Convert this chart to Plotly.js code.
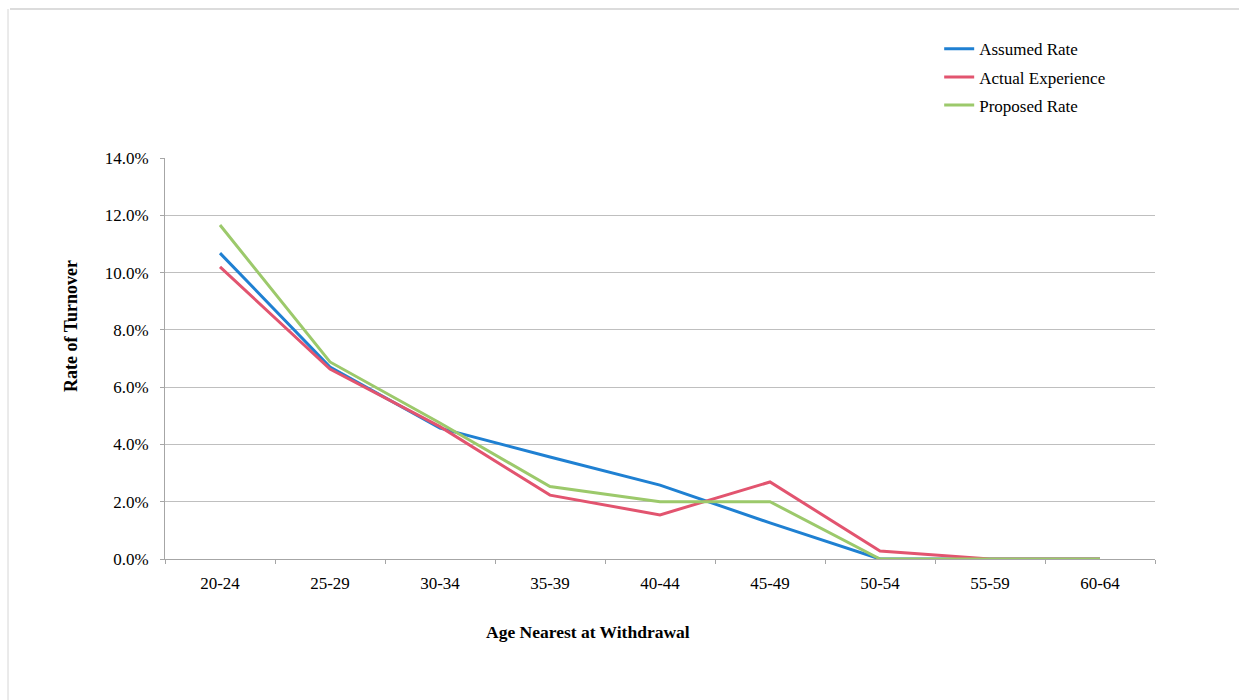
<!DOCTYPE html>
<html>
<head>
<meta charset="utf-8">
<script src="https://cdn.plot.ly/plotly-3.0.1.min.js"></script>
<style>
  html, body { margin: 0; padding: 0; background: #fff; }
  #chart { width: 1239px; height: 700px; }
</style>
</head>
<body>
<div id="chart"></div>
<script>
const categories = ["20-24", "25-29", "30-34", "35-39", "40-44", "45-49", "50-54", "55-59", "60-64"];
const assumedRate = [10.68, 6.70, 4.57, 3.56, 2.58, 1.26, 0.0, 0.0, 0.0];
const actualExperience = [10.20, 6.63, 4.62, 2.23, 1.54, 2.69, 0.28, 0.0, 0.0];
const proposedRate = [11.66, 6.88, 4.75, 2.53, 2.00, 2.00, 0.0, 0.0, 0.0];
const yTickVals = [0, 2, 4, 6, 8, 10, 12, 14];
const yTickText = ["0.0%", "2.0%", "4.0%", "6.0%", "8.0%", "10.0%", "12.0%", "14.0%"];
const xTitle = "Age Nearest at Withdrawal";
const yTitle = "Rate of Turnover";

const serif = "Liberation Serif";

const traces = [
  { name: "Assumed Rate", y: assumedRate, color: "#1f80d2" },
  { name: "Actual Experience", y: actualExperience, color: "#e2546f" },
  { name: "Proposed Rate", y: proposedRate, color: "#9cc96b" }
].map((s, i) => ({
  type: "scatter",
  mode: "lines",
  x: categories,
  y: s.y,
  name: s.name,
  legendgroup: "g" + i,
  line: { color: s.color, width: 3 },
  hoverinfo: "x+y+name"
}));

const layout = {
  width: 1239,
  height: 700,
  margin: { l: 165, r: 84, t: 158, b: 141 },
  paper_bgcolor: "#ffffff",
  plot_bgcolor: "#ffffff",
  font: { family: serif, size: 17, color: "#000" },
  showlegend: true,
  legend: {
    x: 0.782, xanchor: "left",
    y: 1.316, yanchor: "top",
    font: { family: serif, size: 17, color: "#000" },
    traceorder: "grouped",
    tracegroupgap: 3,
    bgcolor: "rgba(0,0,0,0)",
    itemwidth: 30
  },
  xaxis: {
    type: "category",
    range: [-0.5, 8.5],
    showgrid: false,
    showline: true,
    linecolor: "#a6a6a6",
    linewidth: 1,
    ticks: "outside",
    tickson: "boundaries",
    ticklen: 4,
    tickcolor: "#a6a6a6",
    ticklabelstandoff: 9,
    tickfont: { family: serif, size: 17, color: "#000" },
    zeroline: false
  },
  yaxis: {
    range: [0, 14],
    tickvals: yTickVals,
    ticktext: yTickText,
    showgrid: true,
    gridcolor: "#bfbfbf",
    gridwidth: 1,
    showline: true,
    linecolor: "#a6a6a6",
    linewidth: 1,
    ticks: "outside",
    ticklen: 4,
    tickcolor: "#a6a6a6",
    ticklabelstandoff: 8,
    tickfont: { family: serif, size: 17, color: "#000" },
    zeroline: false
  },
  annotations: [
    { text: "<b>" + xTitle + "</b>", xref: "paper", yref: "paper",
      x: (588 - 165) / 990, y: (559 - 632) / 401, xanchor: "center", yanchor: "middle",
      showarrow: false, font: { family: serif, size: 17.5, color: "#000" } },
    { text: "<b>" + yTitle + "</b>", xref: "paper", yref: "paper", textangle: -90,
      x: (71 - 165) / 990, y: (559 - 326) / 401, xanchor: "center", yanchor: "middle",
      showarrow: false, font: { family: serif, size: 18, color: "#000" } }
  ],
  shapes: [
    { type: "line", xref: "paper", yref: "paper",
      x0: (10 - 165) / 990, x1: (1239 - 165) / 990,
      y0: (700 - 141 - 9) / 401, y1: (700 - 141 - 9) / 401,
      line: { color: "#d0d0d0", width: 1.5 } },
    { type: "line", xref: "paper", yref: "paper",
      x0: (8 - 165) / 990, x1: (8 - 165) / 990,
      y0: (700 - 141 - 9) / 401, y1: (700 - 141 - 700) / 401,
      line: { color: "#d6d6d6", width: 1 } }
  ]
};

Plotly.newPlot("chart", traces, layout, { displayModeBar: false, responsive: false });
</script>
</body>
</html>
